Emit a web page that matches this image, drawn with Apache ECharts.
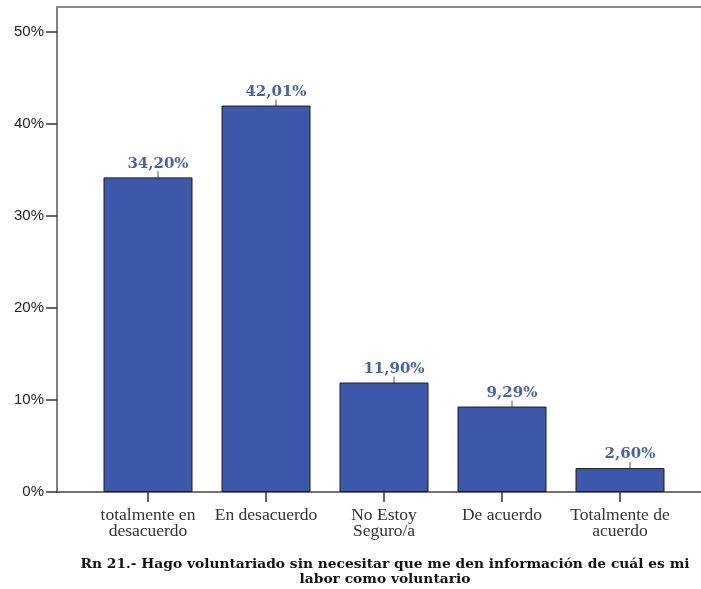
<!DOCTYPE html>
<html lang="es">
<head>
    <meta charset="UTF-8">
    <title>Rn 21</title>
    <script src="https://cdn.jsdelivr.net/npm/echarts@6.0.0/dist/echarts.min.js"></script>
    <style>
        html, body {
            margin: 0;
            padding: 0;
            background: #fff;
        }
    </style>
</head>
<body style="overflow: hidden">

<div id="main" style="width: 701px;height: 589px"></div>

<script>
    // datos
    var categorias = ['totalmente en\ndesacuerdo', 'En desacuerdo', 'No Estoy\nSeguro/a', 'De acuerdo', 'Totalmente de\nacuerdo'];
    var porcentajes = [34.20, 42.01, 11.90, 9.29, 2.60];
    var ticksY = [0, 10, 20, 30, 40, 50];
    var titulo = 'Rn 21.- Hago voluntariado sin necesitar que me den información de cuál es mi\nlabor como voluntario';

    var yMax = 52.72;  // el marco llega un poco por encima del 50%

    var myChart = echarts.init(document.getElementById('main'));

    myChart.setOption({
        animation: false,
        title: {
            text: titulo,
            left: 380,
            top: 552,
            textAlign: 'center',
            textStyle: {
                fontFamily: 'DejaVu Serif',
                fontWeight: 'bold',
                fontSize: 13.8,
                lineHeight: 15,
                color: '#111'
            }
        },
        grid: [
            // marco con el eje Y
            {left: 57, right: 0, top: 7, bottom: 97},
            // zona de las barras
            {left: 89, width: 590, top: 7, bottom: 97}
        ],
        xAxis: [
            {
                gridIndex: 0, type: 'value', min: 0, max: 1, position: 'bottom',
                axisLine: {show: true, lineStyle: {color: '#444', width: 1.5}},
                axisTick: {show: false}, axisLabel: {show: false}, splitLine: {show: false}
            },
            {
                gridIndex: 0, type: 'value', min: 0, max: 1, position: 'top',
                axisLine: {show: true, lineStyle: {color: '#888', width: 2}},
                axisTick: {show: false}, axisLabel: {show: false}, splitLine: {show: false}
            },
            {
                gridIndex: 1, type: 'category', data: categorias,
                axisLine: {show: false},
                axisTick: {show: true, interval: 0, alignWithLabel: true, length: 10, lineStyle: {color: '#333', width: 1.5}},
                axisLabel: {
                    interval: 0,
                    margin: 15,
                    fontFamily: 'Liberation Serif',
                    fontSize: 17.5,
                    lineHeight: 16,
                    color: '#333'
                }
            }
        ],
        yAxis: [
            {
                gridIndex: 0, type: 'value', min: 0, max: yMax,
                axisLine: {show: true, lineStyle: {color: '#555', width: 1.5}},
                axisTick: {show: true, length: 11, customValues: ticksY, lineStyle: {color: '#333', width: 1.5}},
                axisLabel: {
                    customValues: ticksY,
                    formatter: '{value}%',
                    margin: 13,
                    fontFamily: 'Liberation Sans',
                    fontSize: 15,
                    color: '#222'
                },
                splitLine: {show: false}
            },
            {
                gridIndex: 1, type: 'value', min: 0, max: yMax, show: false
            }
        ],
        series: [
            {
                type: 'bar',
                xAxisIndex: 2,
                yAxisIndex: 1,
                data: porcentajes,
                barWidth: 89,
                itemStyle: {color: '#3d58aa', borderColor: '#1e1e1e', borderWidth: 1},
                label: {
                    show: true,
                    position: 'top',
                    distance: 6,
                    fontFamily: 'DejaVu Serif',
                    fontWeight: 'bold',
                    fontSize: 15,
                    color: '#4862b3',
                    formatter: function (p) {
                        return p.value.toFixed(2).replace('.', ',') + '%';
                    }
                },
                labelLayout: {dx: 10},
                labelLine: {show: true, length2: 0, lineStyle: {color: '#555', width: 1}}
            }
        ]
    });
</script>
</body>
</html>
